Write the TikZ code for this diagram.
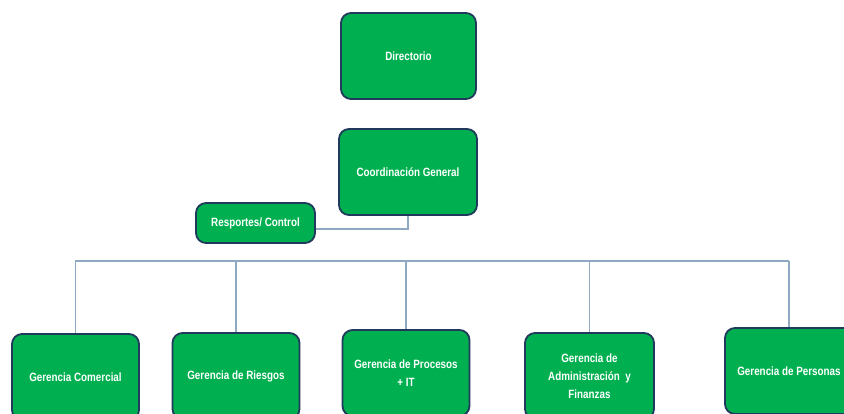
\documentclass[tikz,border=0pt]{standalone}
\usepackage{fontspec}
\setmainfont{Liberation Sans}[FakeStretch=0.82]
\definecolor{boxgreen}{HTML}{00B050}
\definecolor{boxedge}{HTML}{1F3A5A}
\definecolor{linkblue}{HTML}{8EA9C1}
\begin{document}
\begin{tikzpicture}[x=1pt,y=-1pt,
  orgbox/.style={draw=boxedge, line width=1.8pt, fill=boxgreen, rounded corners=10pt,
    text=white, font=\bfseries\fontsize{12}{18}\selectfont, align=center,
    minimum width=127pt, minimum height=86pt, inner sep=2pt},
  link/.style={draw=linkblue, line width=1.3pt}]
\clip (0,0) rectangle (844,414);
\fill[white] (0,0) rectangle (844,414);
\node[orgbox, minimum width=135pt] (dir) at (408.5,56) {Directorio};
\node[orgbox, minimum width=138pt] (coord) at (408,172) {Coordinación General};
\node[orgbox, minimum width=119pt, minimum height=40pt] (rc) at (255.5,223) {Resportes/ Control};
\node[orgbox] (com) at (75.5,377) {Gerencia Comercial};
\node[orgbox] (rie) at (236,376) {Gerencia de Riesgos};
\node[orgbox] (pro) at (406,373) {Gerencia de Procesos\\+ IT};
\node[orgbox, minimum width=129pt] (adm) at (589.5,376) {Gerencia de\\Administración\ \ y\\Finanzas};
\node[orgbox, minimum width=128pt] (per) at (789,371) {Gerencia de Personas};
\coordinate (busL) at (75,261);
\coordinate (busR) at (789,261);
\draw[link] ([yshift=-6pt]rc.east) -| (coord.south);
\draw[link] (busL) -- (busR);
\foreach \b in {com,rie,pro,adm,per}{
  \draw[link] (\b.north |- busL) -- (\b.north);
}
\end{tikzpicture}
\end{document}
